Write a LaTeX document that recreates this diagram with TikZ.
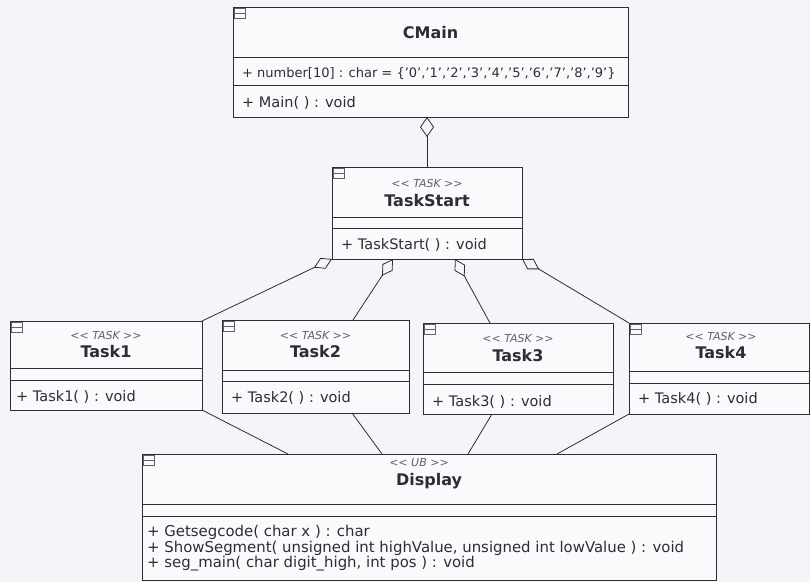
\documentclass[tikz,border=0pt]{standalone}
\usepackage{fontspec}
\setmainfont{DejaVu Sans}
\usetikzlibrary{arrows.meta,calc}
\definecolor{bg}{RGB}{245,245,249}
\definecolor{boxfill}{RGB}{250,250,252}
\definecolor{ink}{RGB}{45,45,52}
\definecolor{ster}{RGB}{95,95,112}
\newcommand{\sterTASK}{<{}< TASK >{}>}
\begin{document}
\begin{tikzpicture}[x=1pt,y=-1pt,
  classbox/.style={draw=ink, line width=0.9pt, fill=boxfill, anchor=north west, inner sep=0pt, outer sep=0pt},
  sepline/.style={draw=ink, line width=0.9pt},
  iconbox/.style={draw=ink!75, line width=0.6pt},
  nametext/.style={font=\fontsize{16}{18}\selectfont\bfseries, text=ink, inner sep=0pt},
  stertext/.style={font=\fontsize{11}{13}\selectfont\itshape, text=ster, inner sep=0pt},
  optext/.style={font=\fontsize{14.5}{16}\selectfont, text=ink, inner sep=0pt, anchor=west},
  conn/.style={draw=ink, line width=0.8pt},
  agg/.style={conn, {Diamond[open, length=20pt, width=12pt]}-}
]
\fill[bg] (0,0) rectangle (810,582);
\useasboundingbox (0,0) rectangle (810,582);

% ---------- CMain ----------
\node[classbox, minimum width=395pt, minimum height=110pt] (cmain) at (233,7) {};
\draw[sepline] ($(cmain.north west)+(0,50)$) -- ($(cmain.north east)+(0,50)$);
\draw[sepline] ($(cmain.north west)+(0,78)$) -- ($(cmain.north east)+(0,78)$);
\draw[iconbox] ($(cmain.north west)+(1,1)$) rectangle ($(cmain.north west)+(12,11)$);
\draw[iconbox] ($(cmain.north west)+(1,6)$) -- ($(cmain.north west)+(12,6)$);
\node[nametext] (cmainname) at ($(cmain.north)+(0,26)$) {CMain};
\node[optext, font=\fontsize{13}{15}\selectfont] (cmainattr) at ($(cmain.north west)+(9,67)$) {+ number[10] : char = \{'0','1','2','3','4','5','6','7','8','9'\}};
\node[optext] (cmainop) at ($(cmain.north west)+(9,96)$) {+ Main( ) : void};

% ---------- TaskStart ----------
\node[classbox, minimum width=190pt, minimum height=92pt] (taskstart) at (332,167) {};
\draw[sepline] ($(taskstart.north west)+(0,50)$) -- ($(taskstart.north east)+(0,50)$);
\draw[sepline] ($(taskstart.north west)+(0,61)$) -- ($(taskstart.north east)+(0,61)$);
\draw[iconbox] ($(taskstart.north west)+(1,1)$) rectangle ($(taskstart.north west)+(12,11)$);
\draw[iconbox] ($(taskstart.north west)+(1,6)$) -- ($(taskstart.north west)+(12,6)$);
\node[stertext] (taskstartster) at ($(taskstart.north)+(0,16)$) {\sterTASK};
\node[nametext] (taskstartname) at ($(taskstart.north)+(0,34)$) {TaskStart};
\node[optext] (taskstartop) at ($(taskstart.north west)+(9,78)$) {+ TaskStart( ) : void};

% ---------- Task1 ----------
\node[classbox, minimum width=192pt, minimum height=89pt] (task1) at (10,321) {};
\draw[sepline] ($(task1.north west)+(0,47)$) -- ($(task1.north east)+(0,47)$);
\draw[sepline] ($(task1.north west)+(0,59)$) -- ($(task1.north east)+(0,59)$);
\draw[iconbox] ($(task1.north west)+(1,1)$) rectangle ($(task1.north west)+(12,11)$);
\draw[iconbox] ($(task1.north west)+(1,6)$) -- ($(task1.north west)+(12,6)$);
\node[stertext] (task1ster) at ($(task1.north)+(0,14)$) {\sterTASK};
\node[nametext] (task1name) at ($(task1.north)+(0,31)$) {Task1};
\node[optext] (task1op) at ($(task1.north west)+(6,76)$) {+ Task1( ) : void};

% ---------- Task2 ----------
\node[classbox, minimum width=187pt, minimum height=93pt] (task2) at (222,320) {};
\draw[sepline] ($(task2.north west)+(0,50)$) -- ($(task2.north east)+(0,50)$);
\draw[sepline] ($(task2.north west)+(0,61)$) -- ($(task2.north east)+(0,61)$);
\draw[iconbox] ($(task2.north west)+(1,1)$) rectangle ($(task2.north west)+(12,11)$);
\draw[iconbox] ($(task2.north west)+(1,6)$) -- ($(task2.north west)+(12,6)$);
\node[stertext] (task2ster) at ($(task2.north)+(0,15)$) {\sterTASK};
\node[nametext] (task2name) at ($(task2.north)+(0,32)$) {Task2};
\node[optext] (task2op) at ($(task2.north west)+(9,78)$) {+ Task2( ) : void};

% ---------- Task3 ----------
\node[classbox, minimum width=190pt, minimum height=91pt] (task3) at (423,323) {};
\draw[sepline] ($(task3.north west)+(0,49)$) -- ($(task3.north east)+(0,49)$);
\draw[sepline] ($(task3.north west)+(0,61)$) -- ($(task3.north east)+(0,61)$);
\draw[iconbox] ($(task3.north west)+(1,1)$) rectangle ($(task3.north west)+(12,11)$);
\draw[iconbox] ($(task3.north west)+(1,6)$) -- ($(task3.north west)+(12,6)$);
\node[stertext] (task3ster) at ($(task3.north)+(0,15)$) {\sterTASK};
\node[nametext] (task3name) at ($(task3.north)+(0,33)$) {Task3};
\node[optext] (task3op) at ($(task3.north west)+(9,79)$) {+ Task3( ) : void};

% ---------- Task4 ----------
\node[classbox, minimum width=180pt, minimum height=91pt] (task4) at (629,323) {};
\draw[sepline] ($(task4.north west)+(0,48)$) -- ($(task4.north east)+(0,48)$);
\draw[sepline] ($(task4.north west)+(0,60)$) -- ($(task4.north east)+(0,60)$);
\draw[iconbox] ($(task4.north west)+(1,1)$) rectangle ($(task4.north west)+(12,11)$);
\draw[iconbox] ($(task4.north west)+(1,6)$) -- ($(task4.north west)+(12,6)$);
\node[stertext] (task4ster) at ($(task4.north)+(2,13)$) {\sterTASK};
\node[nametext] (task4name) at ($(task4.north)+(2,30)$) {Task4};
\node[optext] (task4op) at ($(task4.north west)+(9,76)$) {+ Task4( ) : void};

% ---------- Display ----------
\node[classbox, minimum width=574pt, minimum height=126pt] (display) at (142,454) {};
\draw[sepline] ($(display.north west)+(0,50)$) -- ($(display.north east)+(0,50)$);
\draw[sepline] ($(display.north west)+(0,62)$) -- ($(display.north east)+(0,62)$);
\draw[iconbox] ($(display.north west)+(1,1)$) rectangle ($(display.north west)+(12,11)$);
\draw[iconbox] ($(display.north west)+(1,6)$) -- ($(display.north west)+(12,6)$);
\node[stertext] (displayster) at ($(display.north)+(-10,9)$) {<{}< UB >{}>};
\node[nametext] (displayname) at ($(display.north)+(0,27)$) {Display};
\node[optext, font=\fontsize{14.9}{16}\selectfont] (displayop1) at ($(display.north west)+(5,78)$) {+ Getsegcode( char x ) : char};
\node[optext, font=\fontsize{14.9}{16}\selectfont] (displayop2) at ($(display.north west)+(5,94)$) {+ ShowSegment( unsigned int highValue, unsigned int lowValue ) : void};
\node[optext, font=\fontsize{14.9}{16}\selectfont] (displayop3) at ($(display.north west)+(5,110)$) {+ seg\_main( char digit\_high, int pos ) : void};

% ---------- connectors ----------
\draw[conn, {Diamond[open, length=20pt, width=14pt]}-] (taskstart.north |- cmain.south) -- (taskstart.north);
\draw[agg] (taskstart.south west) -- (task1.north east);
\draw[agg] ([xshift=61pt]taskstart.south west) -- ([xshift=131pt]task2.north west);
\draw[agg] ([xshift=123pt]taskstart.south west) -- ([xshift=67pt]task3.north west);
\draw[agg] (taskstart.south east) -- (task4.north west);

\draw[conn] (task1.south east) -- ([xshift=146pt]display.north west);
\draw[conn] ([xshift=130pt]task2.south west) -- ([xshift=240pt]display.north west);
\draw[conn] ([xshift=69pt]task3.south west) -- ([xshift=326pt]display.north west);
\draw[conn] (task4.south west) -- ([xshift=415pt]display.north west);
\end{tikzpicture}
\end{document}
